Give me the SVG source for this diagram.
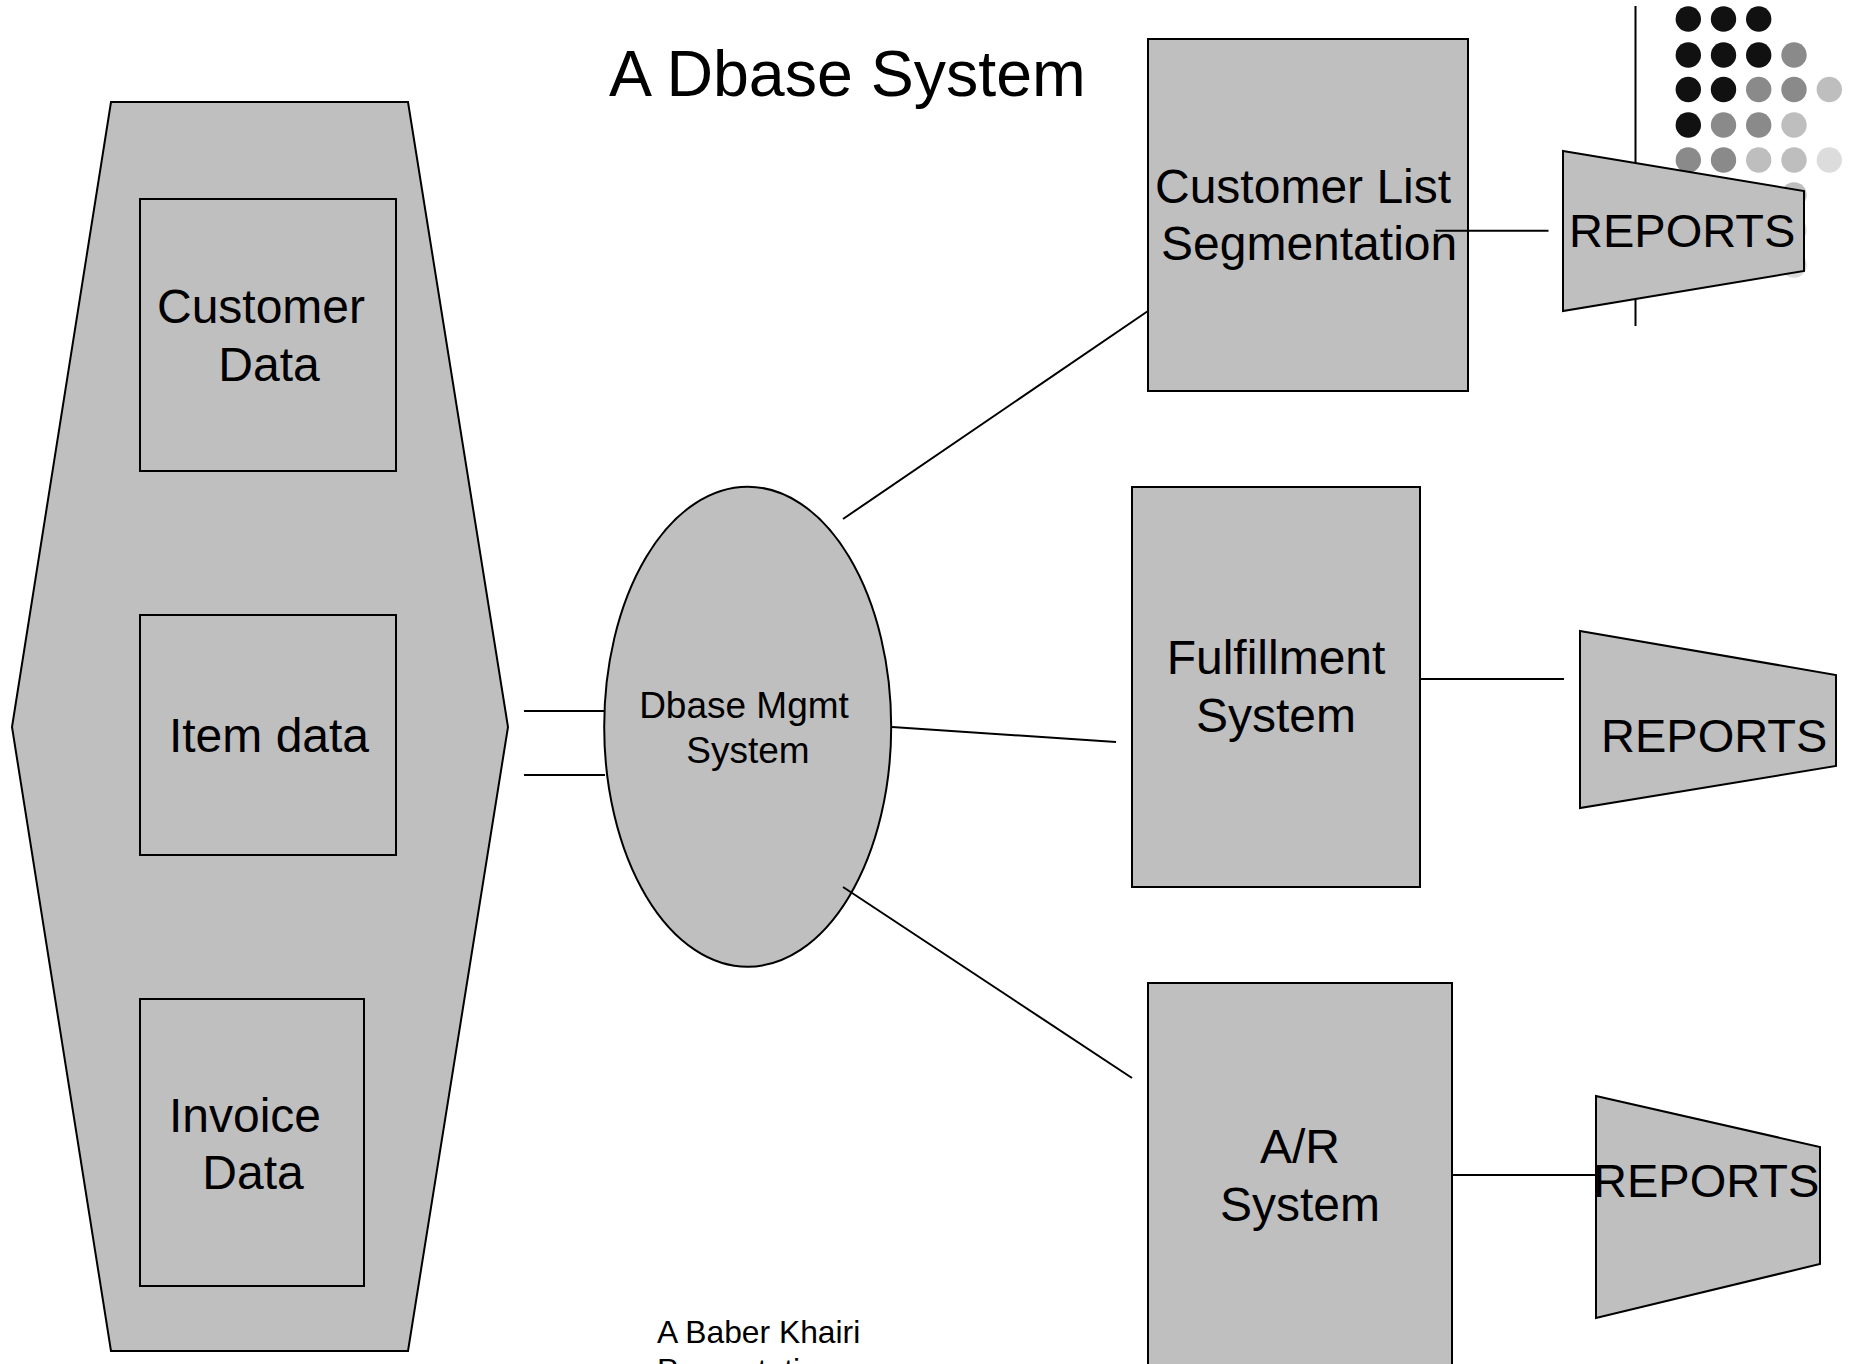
<svg xmlns="http://www.w3.org/2000/svg" width="1854" height="1364" viewBox="0 0 1854 1364">
<style>
text{font-family:"Liberation Sans",Arial,sans-serif;fill:#000}
.shape{fill:#bfbfbf;stroke:#000;stroke-width:2}
.inner{fill:none;stroke:#000;stroke-width:2}
.conn line{stroke:#000;stroke-width:2}
.big{font-size:48px}
.rep{font-size:47px}
.mid{text-anchor:middle}
.d1{fill:#111}.d2{fill:#8a8a8a}.d3{fill:#bebebe}.d4{fill:#dcdcdc}
</style>
<rect width="1854" height="1364" fill="#fff"/>
<g id="decor">
<line x1="1635.5" y1="6" x2="1635.5" y2="326" stroke="#000" stroke-width="2"/>
<circle class="d1" cx="1688.3" cy="19" r="12.7"/><circle class="d1" cx="1723.5" cy="19" r="12.7"/><circle class="d1" cx="1758.7" cy="19" r="12.7"/>
<circle class="d1" cx="1688.3" cy="55" r="12.7"/><circle class="d1" cx="1723.5" cy="55" r="12.7"/><circle class="d1" cx="1758.7" cy="55" r="12.7"/><circle class="d2" cx="1794" cy="55" r="12.7"/>
<circle class="d1" cx="1688.3" cy="89.5" r="12.7"/><circle class="d1" cx="1723.5" cy="89.5" r="12.7"/><circle class="d2" cx="1758.7" cy="89.5" r="12.7"/><circle class="d2" cx="1794" cy="89.5" r="12.7"/><circle class="d3" cx="1829.3" cy="89.5" r="12.7"/>
<circle class="d1" cx="1688.3" cy="125" r="12.7"/><circle class="d2" cx="1723.5" cy="125" r="12.7"/><circle class="d2" cx="1758.7" cy="125" r="12.7"/><circle class="d3" cx="1794" cy="125" r="12.7"/>
<circle class="d2" cx="1688.3" cy="160" r="12.7"/><circle class="d2" cx="1723.5" cy="160" r="12.7"/><circle class="d3" cx="1758.7" cy="160" r="12.7"/><circle class="d3" cx="1794" cy="160" r="12.7"/><circle class="d4" cx="1829.3" cy="160" r="12.7"/>
<circle class="d3" cx="1794" cy="195" r="12.7"/><circle class="d4" cx="1794" cy="230" r="12.7"/><circle class="d4" cx="1794" cy="265" r="12.7"/>
</g>
<text id="title" x="609" y="96" font-size="64.5">A Dbase System</text>
<g id="datastore">
<polygon class="shape" points="111,102 408,102 508,727 408,1351 111,1351 12,727"/>
</g>
<g id="customer-data">
<rect class="inner" x="140" y="199" width="256" height="272"/>
<text class="big mid" x="261" y="323">Customer</text>
<text class="big mid" x="269" y="381">Data</text>
</g>
<g id="item-data">
<rect class="inner" x="140" y="615" width="256" height="240"/>
<text class="big mid" x="269" y="752">Item data</text>
</g>
<g id="invoice-data">
<rect class="inner" x="140" y="999" width="224" height="287"/>
<text class="big mid" x="245" y="1132">Invoice</text>
<text class="big mid" x="253" y="1189">Data</text>
</g>
<g id="dbms">
<ellipse class="shape" cx="747.7" cy="726.7" rx="143.5" ry="240"/>
<text class="mid" x="744" y="718" font-size="37">Dbase Mgmt</text>
<text class="mid" x="748" y="763" font-size="37">System</text>
</g>
<g id="customer-list">
<rect class="shape" x="1148" y="39" width="320" height="352"/>
<text class="big" x="1155" y="203">Customer List</text>
<text class="big" x="1161" y="260">Segmentation</text>
</g>
<g id="reports1">
<polygon class="shape" points="1563,151 1804,191 1804,271 1563,311"/>
<text class="rep" x="1569" y="247">REPORTS</text>
</g>
<g id="fulfillment">
<rect class="shape" x="1132" y="487" width="288" height="400"/>
<text class="big mid" x="1276" y="674">Fulfillment</text>
<text class="big mid" x="1276" y="732">System</text>
</g>
<g id="reports2">
<polygon class="shape" points="1580,631 1836,675 1836,766 1580,808"/>
<text class="rep" x="1601" y="752">REPORTS</text>
</g>
<g id="ar-system">
<rect class="shape" x="1148" y="983" width="304" height="400"/>
<text class="big mid" x="1300" y="1163">A/R</text>
<text class="big mid" x="1300" y="1221">System</text>
</g>
<g id="reports3">
<polygon class="shape" points="1596,1096 1820,1147 1820,1264 1596,1318"/>
<text class="rep" x="1593" y="1197">REPORTS</text>
</g>
<g class="conn" id="connectors">
<line x1="524" y1="711" x2="605" y2="711"/>
<line x1="524" y1="775" x2="605" y2="775"/>
<line x1="843" y1="519" x2="1148" y2="311"/>
<line x1="892" y1="727" x2="1116" y2="742"/>
<line x1="843" y1="887" x2="1132" y2="1078"/>
<line x1="1435.5" y1="230.7" x2="1548.5" y2="230.7"/>
<line x1="1420" y1="679" x2="1564" y2="679"/>
<line x1="1452" y1="1175" x2="1596" y2="1175"/>
</g>
<g id="footer">
<text x="657" y="1343" font-size="31.8">A Baber Khairi</text>
<text x="657" y="1381" font-size="31.8">Presentation</text>
</g>
</svg>
